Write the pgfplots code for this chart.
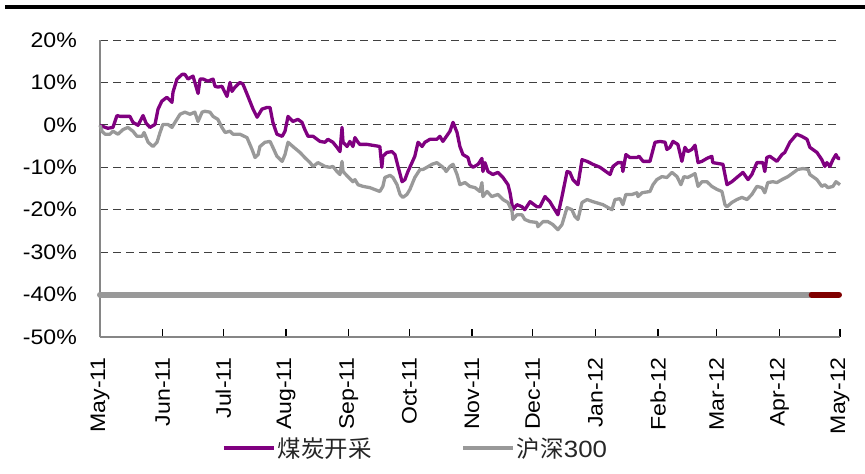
\documentclass[border=0pt]{standalone}
\usepackage{fontspec}
\usepackage{pgfplots}
\pgfplotsset{compat=1.18}
\newfontfamily\latinf{Liberation Sans}[FakeStretch=1.1]
\newfontfamily\cjk{Noto Sans CJK SC}
\definecolor{CoalPurple}{HTML}{800080}
\definecolor{IdxGray}{HTML}{999999}
\definecolor{DarkRed}{HTML}{800000}
\definecolor{AxisGray}{HTML}{868686}

\begin{document}
\begin{tikzpicture}
\useasboundingbox (0,0) rectangle (865pt,-474pt);
\draw[line width=4pt] (5pt,-7pt) -- (865pt,-7pt);
\begin{axis}[
  at={(100pt,-337pt)}, anchor=south west,
  scale only axis, width=740pt, height=297pt,
  xmin=0, xmax=366, ymin=-50, ymax=20,
  axis x line*=bottom, axis y line*=left,
  axis line style={AxisGray, line width=1.5pt},
  xtick={0,31,61,92,123,153,184,214,245,276,305,336,366},
  xticklabels={May-11,Jun-11,Jul-11,Aug-11,Sep-11,Oct-11,Nov-11,Dec-11,Jan-12,Feb-12,Mar-12,Apr-12,May-12},
  ytick={-50,-40,...,20},
  yticklabels={-50\%,-40\%,-30\%,-20\%,-10\%,0\%,10\%,20\%},
  tick align=inside, major tick length=8pt,
  x tick style={black, line width=1.2pt},
  y tick style={draw=none},
  ymajorgrids,
  major grid style={black!75, line width=0.8pt, dash pattern=on 8pt off 5pt},
  tick label style={font=\latinf\fontsize{21}{25}\selectfont, text=black},
  x tick label style={rotate=90, anchor=east, inner sep=0pt},
  xticklabel shift=20pt,
  y tick label style={anchor=east, inner sep=0pt},
  yticklabel shift=23pt,
  clip=false,
  legend columns=2,
  legend style={at={(0.165,-0.374)}, anchor=west, draw=none, fill=none, inner sep=0pt,
    font=\fontsize{23.5}{28}\selectfont\cjk, text=black!85,
    /tikz/every even column/.append style={column sep=88pt}},
  legend image code/.code={\draw[#1] (0pt,0pt) -- (50pt,0pt);},
  line join=round,
]
\addplot[IdxGray, line width=6pt, line cap=round, forget plot] coordinates {(0,-40) (352,-40)};
\addplot[DarkRed, line width=6pt, line cap=round, forget plot] coordinates {(352,-40) (365.5,-40)};

\addplot[CoalPurple, line width=3.3pt] coordinates {
(0,-0.1) (1.5,-0.4) (3.9,-0.8) (6.4,-0.6) (8.4,2.2) (9.9,2.0) (14.8,2.0) (16.3,0.6)
(18.8,-0.1) (21.3,2.2) (22.8,0.4) (24.7,-0.6) (27.2,0.1) (28.7,3.7) (30.6,5.6) (33.1,6.5)
(35.6,5.3) (36.1,7.7) (38.1,10.8) (40.6,11.9) (42.0,11.9) (43.5,10.8) (46.0,11.5) (48.5,7.4)
(49.5,10.8) (51.0,10.8) (53.4,10.3) (55.9,10.8) (56.9,9.1) (58.3,8.9) (60.3,9.1) (62.8,6.7)
(64.3,10.0) (65.3,7.9) (66.8,8.9) (69.2,10.0) (70.7,9.6) (73.2,6.7) (75.7,3.7) (77.7,1.8)
(80.1,3.7) (82.6,4.1) (84.1,4.1) (85.5,0.6) (87.5,-2.2) (90.1,-2.7) (91.5,-1.5) (93.0,2.0)
(95.4,0.8) (97.9,1.3) (99.9,0.6) (101.3,-1.1) (102.9,-2.7) (105.4,-2.7) (108.8,-3.9) (111.3,-4.1)
(112.7,-3.4) (115.2,-4.1) (117.2,-5.3) (118.7,-6.3) (119.7,-0.6) (120.2,-4.1) (122.2,-5.1) (123.6,-3.9)
(125.1,-5.1) (126.1,-3.0) (127.6,-4.1) (128.5,-4.6) (132.1,-4.6) (138.4,-5.1) (139.4,-10.0) (139.9,-7.4)
(141.9,-6.5) (144.4,-6.3) (145.9,-7.0) (147.4,-9.8) (149.4,-13.4) (150.8,-12.9) (152.3,-11.0) (154.3,-8.9)
(155.7,-7.4) (157.3,-4.1) (159.3,-5.1) (160.7,-4.1) (163.2,-3.4) (166.6,-3.4) (168.1,-2.7) (169.6,-3.9)
(173.1,-1.5) (174.6,0.6) (176.6,-1.8) (178.0,-5.1) (179.5,-7.0) (182.0,-7.7) (182.9,-9.3) (184.5,-10.0)
(187.0,-9.3) (188.9,-7.9) (189.4,-11.0) (190.4,-8.9) (191.9,-11.0) (194.3,-11.7) (196.8,-11.2) (199.3,-12.4)
(201.8,-14.1) (202.8,-16.0) (204.2,-20.0) (206.2,-18.8) (208.7,-19.3) (210.1,-20.0) (212.7,-18.1) (216.1,-19.3)
(217.6,-19.3) (220.1,-16.9) (222.5,-18.1) (224.0,-19.3) (226.5,-21.2) (228.5,-16.9) (231.0,-11.0) (232.4,-11.2)
(233.9,-12.9) (236.4,-14.1) (238.4,-8.2) (240.9,-8.6) (243.8,-9.3) (247.3,-10.0) (252.3,-11.7) (253.7,-9.8)
(256.2,-8.9) (258.2,-8.9) (258.6,-11.0) (260.1,-7.0) (262.1,-7.7) (265.6,-7.7) (266.6,-7.4) (268.6,-8.6)
(272.0,-8.6) (274.5,-4.1) (277.0,-3.9) (279.5,-4.1) (280.4,-5.8) (281.9,-5.3) (283.4,-3.9) (285.8,-4.6)
(287.8,-8.6) (289.3,-5.3) (290.7,-6.3) (292.7,-5.8) (294.3,-4.8) (295.8,-8.9) (297.7,-8.6) (300.2,-7.9)
(302.6,-7.4) (303.1,-8.9) (305.6,-9.1) (308.1,-9.3) (310.1,-14.1) (312.5,-13.4) (315.0,-12.4) (318.0,-11.2)
(320.5,-12.9) (322.4,-11.7) (324.9,-8.9) (327.9,-8.9) (328.8,-11.0) (329.8,-7.7) (331.3,-7.4) (334.8,-8.6)
(337.3,-7.0) (338.7,-6.5) (341.2,-4.1) (344.6,-2.2) (347.1,-2.7) (349.7,-3.4) (351.1,-5.3) (354.6,-6.5)
(357.0,-8.2) (358.5,-9.8) (359.5,-8.9) (361.0,-9.8) (362.5,-8.2) (364.0,-7.0) (365.0,-7.9) (366.0,-7.9)
};
\addlegendentry{煤炭开采}

\addplot[IdxGray, line width=3.3pt] coordinates {
(0,-0.1) (1.0,-1.5) (2.5,-2.2) (4.9,-2.2) (6.4,-1.5) (8.9,-2.2) (11.4,-1.1) (13.8,-0.6)
(16.3,-1.5) (18.3,-2.7) (20.8,-2.7) (21.8,-1.8) (23.8,-4.1) (26.2,-5.1) (28.2,-4.1) (29.7,-1.8)
(31.1,0.1) (33.6,0.1) (35.6,-0.6) (37.1,0.6) (39.6,2.5) (42.0,3.0) (44.5,2.5) (46.9,3.0)
(48.5,0.8) (50.5,3.0) (51.9,3.2) (54.4,3.0) (55.9,2.0) (58.3,1.3) (60.3,-0.6) (61.9,-1.8)
(64.3,-1.5) (65.8,-2.2) (69.2,-2.2) (72.7,-3.0) (75.2,-5.8) (76.7,-7.7) (78.2,-7.0) (79.1,-5.1)
(81.6,-4.1) (84.1,-3.9) (85.5,-5.3) (87.5,-7.4) (90.1,-8.6) (91.5,-7.0) (93.0,-4.1) (95.4,-5.1)
(98.9,-6.5) (101.3,-7.7) (103.9,-8.9) (105.4,-9.8) (107.8,-8.9) (111.3,-9.8) (113.7,-10.0) (115.2,-9.8)
(117.2,-11.0) (118.7,-11.7) (119.7,-8.6) (120.2,-11.0) (122.6,-12.2) (125.1,-13.4) (126.1,-12.9) (127.6,-14.1)
(130.1,-14.5) (133.5,-14.8) (138.4,-15.7) (139.9,-14.5) (140.9,-12.4) (143.5,-11.9) (144.9,-12.4) (146.9,-14.1)
(148.4,-16.4) (149.8,-17.1) (151.8,-16.4) (153.3,-15.2) (155.7,-12.4) (158.3,-10.5) (159.8,-10.5) (161.7,-10.0)
(164.2,-9.3) (166.6,-8.9) (169.1,-9.8) (170.6,-10.5) (171.2,-11.0) (173.1,-9.8) (174.6,-9.3) (176.6,-11.7)
(178.0,-14.1) (180.5,-13.6) (182.9,-14.5) (185.5,-14.8) (187.9,-15.7) (188.9,-13.6) (189.4,-16.9) (191.4,-15.7)
(193.8,-16.9) (196.8,-16.4) (199.3,-17.6) (201.8,-18.3) (203.8,-20.4) (204.2,-22.3) (206.2,-21.2) (208.7,-21.2)
(210.1,-22.3) (212.7,-22.8) (216.1,-23.0) (216.6,-24.0) (219.1,-22.8) (221.5,-22.8) (224.0,-23.5) (226.5,-24.7)
(228.5,-23.5) (231.0,-19.5) (233.4,-20.0) (234.9,-21.6) (236.4,-22.3) (238.4,-18.3) (240.9,-17.6) (243.8,-18.1)
(248.7,-18.8) (253.2,-20.0) (254.7,-17.6) (257.2,-17.4) (258.6,-18.8) (260.1,-16.4) (263.1,-16.4) (265.6,-16.0)
(266.1,-16.9) (268.1,-16.0) (272.0,-15.7) (273.5,-14.1) (275.4,-12.9) (277.9,-12.2) (280.4,-12.4) (282.9,-11.2)
(285.4,-12.2) (287.3,-14.1) (288.8,-12.2) (290.7,-12.4) (294.3,-11.5) (295.8,-14.5) (297.7,-13.4) (300.2,-13.4)
(302.6,-14.5) (305.1,-15.2) (307.6,-15.7) (309.1,-18.8) (310.1,-19.3) (312.5,-18.3) (315.0,-17.6) (317.5,-17.1)
(320.0,-17.6) (322.4,-16.4) (324.9,-14.5) (327.4,-14.8) (328.8,-16.0) (330.3,-13.6) (332.8,-13.4) (334.8,-13.6)
(337.3,-12.9) (340.2,-12.2) (343.7,-11.0) (345.1,-10.5) (347.7,-10.3) (350.2,-10.5) (351.1,-11.7) (354.6,-12.9)
(357.0,-14.5) (358.5,-14.1) (360.0,-14.8) (362.5,-14.5) (364.0,-13.4) (366.0,-14.1)
};
\addlegendentry{沪深{\latinf 300}}
\end{axis}
\end{tikzpicture}
\end{document}
